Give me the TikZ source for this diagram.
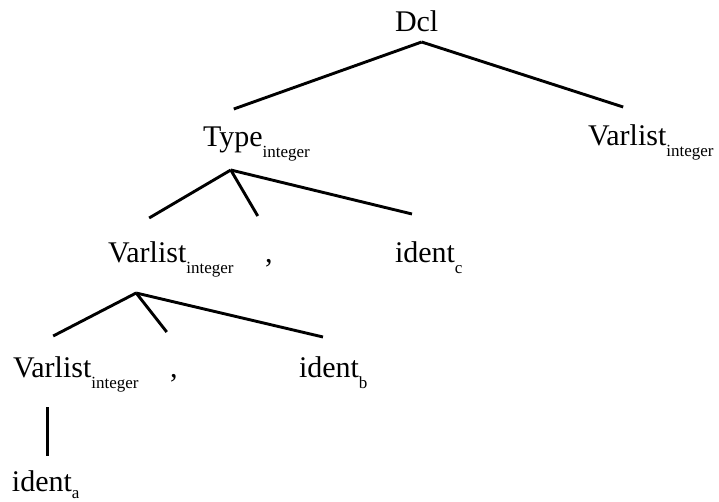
\documentclass[tikz,border=0pt]{standalone}
\usepackage{fontspec}
\setmainfont{Liberation Serif}
\begin{document}
\begin{tikzpicture}[x=1pt,y=-1pt,
  word/.style={anchor=base west,inner sep=0pt,outer sep=0pt,font=\fontsize{30}{36}\selectfont},
  sub/.style={anchor=base west,inner sep=0pt,outer sep=0pt,font=\fontsize{17}{20}\selectfont,yshift=-11pt},
  edge/.style={line width=2.9pt}]
\useasboundingbox (0,0) rectangle (719,502);

% grammar symbols
\node[word] (dcl) at (395,32) {Dcl};
\node[word] (type) at (203,147) {Type};
\node[sub] (type-s) at (type.base east) {integer};
\node[word] (vr) at (588,146) {Varlist};
\node[sub] (vr-s) at (vr.base east) {integer};
\node[word] (vm) at (108,262) {Varlist};
\node[sub] (vm-s) at (vm.base east) {integer};
\node[word] (cm1) at (265,262) {,};
\node[word] (idc) at (395,262) {ident};
\node[sub] (idc-s) at (idc.base east) {c};
\node[word] (vb) at (13,377) {Varlist};
\node[sub] (vb-s) at (vb.base east) {integer};
\node[word] (cm2) at (170,377) {,};
\node[word] (idb) at (299,377) {ident};
\node[sub] (idb-s) at (idb.base east) {b};
\node[word] (ida) at (12,491) {ident};
\node[sub,yshift=4pt] (ida-s) at (ida.base east) {a};

% derivation edges
\draw[edge] ([shift={(5,10)}]dcl.base) -- ([shift={(1,-38)}]type.base);
\draw[edge] ([shift={(5,10)}]dcl.base) -- ([shift={(-4,-39)}]vr.base);
\draw[edge] ([shift={(-2,23)}]type.base) -- ([shift={(2,-44)}]vm.base);
\draw[edge] ([shift={(-2,23)}]type.base) -- ([shift={(-11,-46)}]cm1.base);
\draw[edge] ([shift={(-2,23)}]type.base) -- ([shift={(-13,-48)}]idc.base);
\draw[edge] ([shift={(-11,31)}]vm.base) -- ([shift={(1,-41)}]vb.base);
\draw[edge] ([shift={(-11,31)}]vm.base) -- ([shift={(-7,-45)}]cm2.base);
\draw[edge] ([shift={(-11,31)}]vm.base) -- ([shift={(-6,-40)}]idb.base);
\draw[edge] ([shift={(-5,30)}]vb.base) coordinate (vtop) -- ([yshift=35pt]vtop |- ida.base);
\end{tikzpicture}
\end{document}
